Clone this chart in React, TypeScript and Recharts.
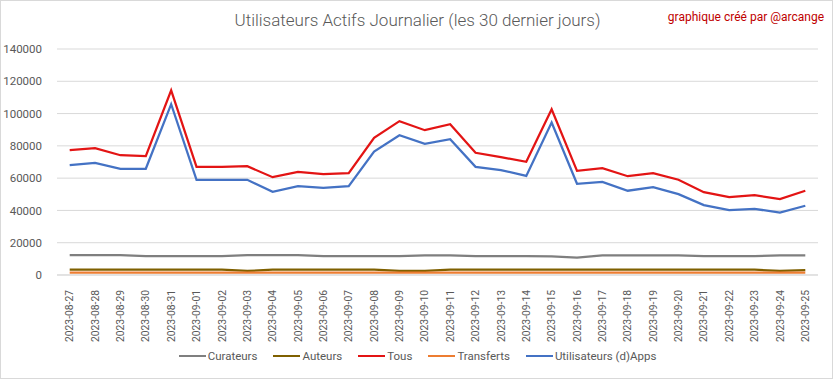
import * as React from "react";
import { LineChart, Line, XAxis, YAxis, CartesianGrid } from "recharts";

const dates = [
  "2023-08-27", "2023-08-28", "2023-08-29", "2023-08-30", "2023-08-31",
  "2023-09-01", "2023-09-02", "2023-09-03", "2023-09-04", "2023-09-05",
  "2023-09-06", "2023-09-07", "2023-09-08", "2023-09-09", "2023-09-10",
  "2023-09-11", "2023-09-12", "2023-09-13", "2023-09-14", "2023-09-15",
  "2023-09-16", "2023-09-17", "2023-09-18", "2023-09-19", "2023-09-20",
  "2023-09-21", "2023-09-22", "2023-09-23", "2023-09-24", "2023-09-25",
];

const curateurs = [
  12300, 12300, 12300, 11700, 11700, 11700, 11700, 12300, 12300, 12300,
  11700, 11700, 11700, 11700, 12200, 12200, 11700, 11700, 11700, 11500,
  10800, 12200, 12200, 12200, 12200, 11700, 11700, 11700, 12200, 12200,
];

const auteurs = [
  3300, 3300, 3300, 3300, 3300, 3300, 3300, 2500, 3300, 3300,
  3300, 3300, 3300, 2500, 2500, 3300, 3300, 3300, 3300, 3300,
  3300, 3300, 3300, 3300, 3300, 3300, 3300, 3300, 2500, 3000,
];

const tous = [
  77300, 78600, 74200, 73600, 114400, 67000, 67000, 67400, 60600, 63900,
  62500, 63100, 85000, 95300, 89700, 93400, 75700, 73000, 70100, 102700,
  64500, 66200, 61200, 63100, 59000, 51300, 48200, 49500, 47000, 52200,
];

const transferts = [
  1400, 1400, 1400, 1400, 1400, 1400, 1400, 1400, 1400, 1400,
  1400, 1400, 1400, 1400, 1400, 1400, 1400, 1400, 1400, 1400,
  1400, 1400, 1400, 1400, 1400, 1400, 1400, 1400, 1400, 1400,
];

const dapps = [
  68000, 69500, 65800, 65800, 105800, 59000, 59000, 59000, 51500, 55000,
  54000, 55000, 76500, 86600, 81200, 84100, 67000, 65000, 61400, 94400,
  56500, 57700, 52200, 54400, 50100, 43300, 40200, 41000, 38600, 42900,
];

const yTicks = [0, 20000, 40000, 60000, 80000, 100000, 120000, 140000];

const series = [
  { key: "curateurs", name: "Curateurs", color: "#7f7f7f" },
  { key: "auteurs", name: "Auteurs", color: "#7f6000" },
  { key: "tous", name: "Tous", color: "#e31414" },
  { key: "transferts", name: "Transferts", color: "#ed7d31" },
  { key: "dapps", name: "Utilisateurs (d)Apps", color: "#4472c4" },
];

const data = dates.map((d, i) => ({
  date: d,
  curateurs: curateurs[i],
  auteurs: auteurs[i],
  tous: tous[i],
  transferts: transferts[i],
  dapps: dapps[i],
}));

const FONT = "Roboto, 'Liberation Sans', sans-serif";

const DateTick = (props: any) => {
  const { x, y, payload } = props;
  return (
    <text
      transform={`translate(${x},${y + 7}) rotate(-90)`}
      textAnchor="end"
      dy="0.35em"
      fontSize={10.3}
      fontFamily={FONT}
      fill="#595959"
    >
      {payload.value}
    </text>
  );
};

export default function App() {
  return (
    <div
      style={{
        position: "absolute",
        left: 0,
        top: 0,
        width: 833,
        height: 379,
        background: "#fff",
        boxSizing: "border-box",
        border: "1px solid #d9d9d9",
        fontFamily: FONT,
      }}
    >
      <div
        style={{
          position: "absolute",
          left: 0,
          width: 833,
          top: 9,
          textAlign: "center",
          fontSize: 17,
          fontWeight: 300,
          color: "#595959",
        }}
      >
        Utilisateurs Actifs Journalier (les 30 dernier jours)
      </div>
      <div
        style={{
          position: "absolute",
          right: 8,
          top: 9,
          fontSize: 12,
          color: "#c00000",
        }}
      >
        graphique créé par @arcange
      </div>
      <div style={{ position: "absolute", left: -1, top: -1 }}>
        <LineChart
          width={833}
          height={379}
          data={data}
          margin={{ top: 49, right: 15, bottom: 0, left: 0 }}
        >
          <CartesianGrid vertical={false} stroke="#d9d9d9" />
          <XAxis
            dataKey="date"
            interval={0}
            height={104}
            tick={<DateTick />}
            tickLine={false}
            axisLine={{ stroke: "#d9d9d9" }}
            padding={{ left: 12.7, right: 12.7 }}
          />
          <YAxis
            width={57}
            domain={[0, 140000]}
            ticks={yTicks}
            axisLine={false}
            tickLine={false}
            tick={{ fontSize: 11.5, fill: "#595959", fontFamily: FONT }}
            tickMargin={9}
          />
          {series.map((s) => (
            <Line
              key={s.key}
              type="linear"
              dataKey={s.key}
              name={s.name}
              stroke={s.color}
              strokeWidth={2.25}
              dot={false}
              isAnimationActive={false}
            />
          ))}
        </LineChart>
      </div>
      <div
        style={{
          position: "absolute",
          left: 0,
          width: 833,
          top: 348,
          display: "flex",
          justifyContent: "center",
          gap: 16,
          fontSize: 11.5,
          color: "#595959",
          zIndex: 2,
        }}
      >
        {series.map((s) => (
          <div
            key={s.key}
            style={{ display: "flex", alignItems: "center", flex: "0 0 auto" }}
          >
            <span
              style={{
                display: "block",
                flex: "0 0 27px",
                width: 27,
                height: 2.5,
                background: s.color,
                marginRight: 2,
              }}
            />
            <span style={{ whiteSpace: "nowrap" }}>{s.name}</span>
          </div>
        ))}
      </div>
    </div>
  );
}
